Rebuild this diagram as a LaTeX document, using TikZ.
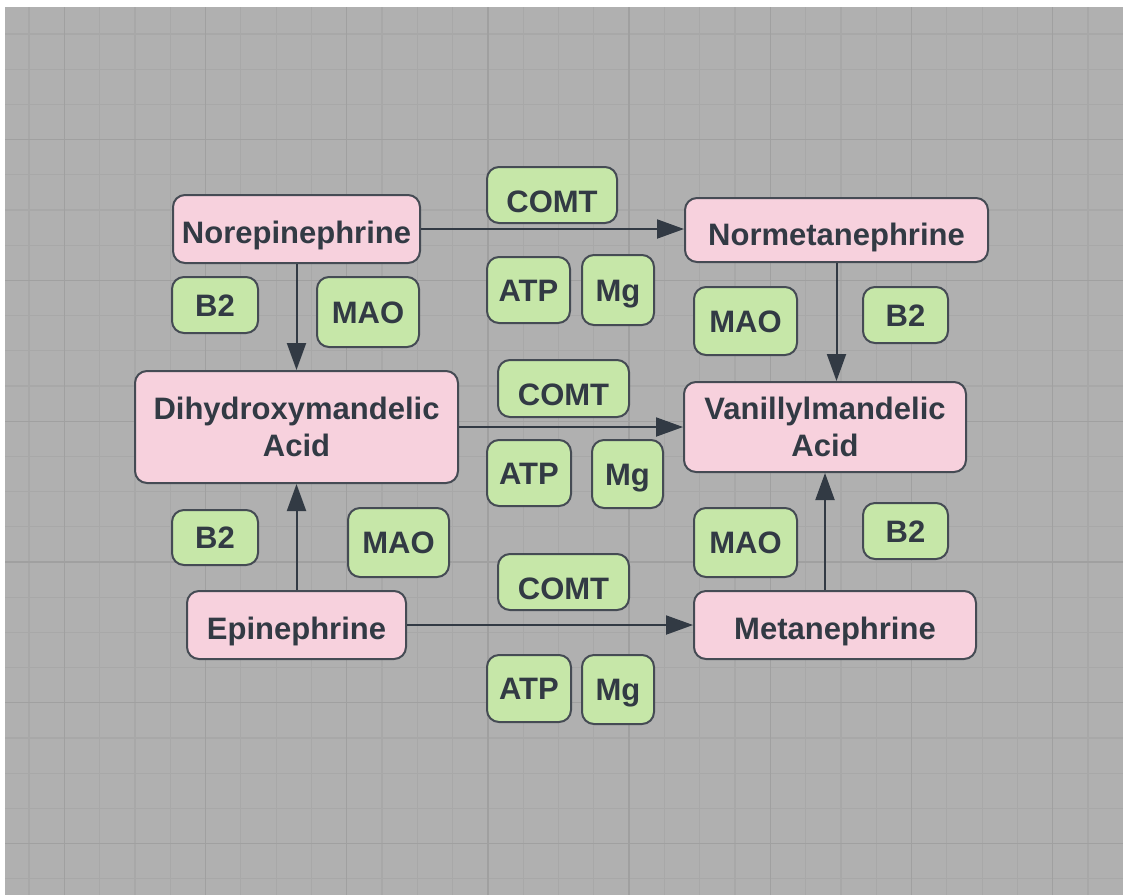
\documentclass[tikz,border=0pt]{standalone}
\usepackage{fontspec}
\setmainfont{Liberation Sans}
\usetikzlibrary{arrows.meta}

\definecolor{canvas}{HTML}{B0B0B0}
\definecolor{gridminor}{HTML}{A8A8A8}
\definecolor{gridmajor}{HTML}{A0A0A0}
\definecolor{ink}{HTML}{323A44}
\definecolor{edge}{HTML}{454B54}
\definecolor{pinkfill}{HTML}{F7D1DD}
\definecolor{greenfill}{HTML}{C6E7A8}

\tikzset{
  box/.style={draw=edge, line width=2pt, rounded corners=12pt, text=ink,
    font=\fontsize{31}{37}\selectfont\bfseries, align=center, inner sep=0pt},
  compound/.style={box, fill=pinkfill},
  oneline/.style={compound, text height=28pt, text depth=0pt},
  cofactor/.style={box, fill=greenfill, text height=22pt, text depth=0pt},
  enzyme/.style={cofactor, text height=34pt},
  sz/.style 2 args={minimum width=#1pt, minimum height=#2pt},
  flow/.style={draw=ink, line width=2pt, -{Triangle[length=27pt,width=19pt]}}
}

\begin{document}
\begin{tikzpicture}[x=1pt,y=-1pt]
  \useasboundingbox (0,0) rectangle (1123,895);
  \fill[white] (0,0) rectangle (1123,895);
  \fill[canvas] (5,7) rectangle (1123,895);
  % grid
  \foreach \k in {0,...,30}
    \draw[gridminor, line width=1.2pt] (29+35.3*\k,7) -- (29+35.3*\k,895);
  \foreach \k in {0,...,24}
    \draw[gridminor, line width=1.2pt] (5,34+35.2*\k) -- (1123,34+35.2*\k);
  \foreach \k in {1,5,...,29}
    \draw[gridmajor, line width=1.3pt] (29+35.3*\k,7) -- (29+35.3*\k,895);
  \foreach \k in {3,7,...,23}
    \draw[gridmajor, line width=1.3pt] (5,34+35.2*\k) -- (1123,34+35.2*\k);

  % compounds
  \node[oneline, sz={247}{68}] (nor) at (296.5,229) {Norepinephrine};
  \node[oneline, sz={303}{64}, text height=30pt] (normet) at (836.5,230) {Normetanephrine};
  \node[compound, sz={323}{112}] (dhma) at (296.5,427) {Dihydroxymandelic\\Acid};
  \node[compound, sz={282}{90}] (vma) at (825,427) {Vanillylmandelic\\Acid};
  \node[oneline, sz={219}{68}] (epi) at (296.5,625) {Epinephrine};
  \node[oneline, sz={282}{68}] (meta) at (835,625) {Metanephrine};

  % cofactors, top row
  \node[enzyme, sz={130}{56}] (comt1) at (552,195) {COMT};
  \node[cofactor, sz={83}{66}] (atp1) at (528.5,290) {ATP};
  \node[cofactor, sz={72}{70}] (mg1) at (618,290) {Mg};
  \node[cofactor, sz={86}{56}] (b2a) at (215,305) {B2};
  \node[cofactor, sz={102}{70}] (maoa) at (368,312) {MAO};
  \node[cofactor, sz={103}{68}] (maob) at (745.5,321) {MAO};
  \node[cofactor, sz={85}{56}] (b2b) at (905.5,315) {B2};
  % middle row
  \node[enzyme, sz={131}{57}] (comt2) at (563.5,388.5) {COMT};
  \node[cofactor, sz={84}{66}] (atp2) at (529,473) {ATP};
  \node[cofactor, sz={71}{68}] (mg2) at (627.5,474) {Mg};
  \node[cofactor, sz={86}{55}] (b2c) at (215,537.5) {B2};
  \node[cofactor, sz={101}{69}] (maoc) at (398.5,542.5) {MAO};
  \node[cofactor, sz={103}{69}] (maod) at (745.5,542.5) {MAO};
  \node[cofactor, sz={85}{56}] (b2d) at (905.5,531) {B2};
  % bottom row
  \node[enzyme, sz={131}{56}] (comt3) at (563.5,582) {COMT};
  \node[cofactor, sz={84}{67}] (atp3) at (529,688.5) {ATP};
  \node[cofactor, sz={72}{69}] (mg3) at (618,689.5) {Mg};

  % reactions
  \draw[flow] (nor.east) -- (nor.east -| normet.west);
  \draw[flow] (nor.south) -- (dhma.north);
  \draw[flow] (dhma.east) -- (vma.west);
  \draw[flow] (normet.south) -- (normet.south |- vma.north);
  \draw[flow] (epi.north) -- (dhma.south);
  \draw[flow] (epi.east) -- (meta.west);
  \draw[flow] (vma.south |- meta.north) -- (vma.south);
\end{tikzpicture}
\end{document}
